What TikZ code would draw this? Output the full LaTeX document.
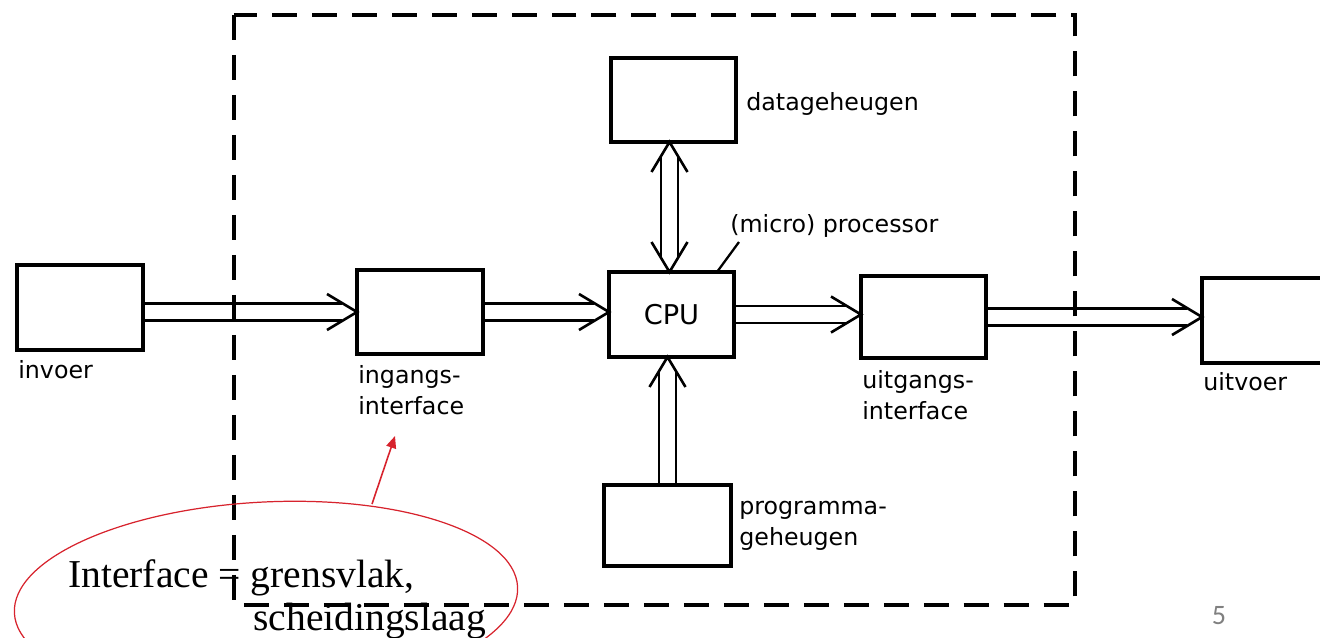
\documentclass[tikz,border=0pt]{standalone}
\usepackage{fontspec}
\usetikzlibrary{arrows.meta,decorations.markings,fit,calc}
\newfontfamily\lblfont{DejaVu Sans}
\newfontfamily\notefont{Liberation Serif}
\newfontfamily\pagefont{Carlito}
\definecolor{notered}{RGB}{215,35,45}
\definecolor{pagegray}{RGB}{128,128,128}
\tikzset{
  box/.style={draw, line width=2pt, inner sep=0pt, outer sep=0pt},
  lbl/.style={font=\lblfont\fontsize{13.5}{17.6}\selectfont, inner sep=0pt, align=left},
  cpulbl/.style={font=\lblfont\fontsize{15.5}{18}\selectfont, inner sep=0pt},
  frame/.style={line width=2.2pt, dash pattern=on 0.5cm off 0.3cm},
  dblarrow/.style={draw=none,
    postaction={draw, line width=1.5pt, double=white, double distance=0.29cm, shorten >=0.3cm},
    postaction={decorate, decoration={markings, mark=at position 1 with {\draw[line width=1.5pt] (-0.6cm,0.36cm) -- (0,0) -- (-0.6cm,-0.36cm);}}}},
  dblarrows/.style={draw=none,
    postaction={draw, line width=1.5pt, double=white, double distance=0.29cm, shorten >=0.3cm, shorten <=0.3cm},
    postaction={decorate, decoration={markings,
      mark=at position 0 with {\draw[line width=1.5pt] (0.6cm,0.36cm) -- (0,0) -- (0.6cm,-0.36cm);},
      mark=at position 1 with {\draw[line width=1.5pt] (-0.6cm,0.36cm) -- (0,0) -- (-0.6cm,-0.36cm);}}}},
  leader/.style={line width=1.3pt},
  notetext/.style={font=\notefont\fontsize{22.5}{26}\selectfont, inner sep=0pt, anchor=base west},
  notearrow/.style={notered, line width=0.9pt, -{Triangle[length=0.24cm,width=0.2cm]}},
  noteellipse/.style={notered, line width=0.7pt}
}
\begin{document}
\begin{tikzpicture}[x=0.02cm, y=-0.02cm]
\useasboundingbox (0,0) rectangle (1320,637);
\clip (0,0) rectangle (1320,637);

% box positions (outlines drawn after connectors)
\path node[box, draw=none, fit={(17,265) (143,350)}] (invoer) {}
      node[box, draw=none, fit={(357,270) (483,354)}] (ingang) {}
      node[box, draw=none, fit={(609,272) (734,357)}] (cpu) {}
      node[box, draw=none, fit={(861,276) (986,358)}] (uitgang) {}
      node[box, draw=none, fit={(1202,278) (1335,363)}] (uitvoer) {}
      node[box, draw=none, fit={(611,58) (736,142)}] (data) {}
      node[box, draw=none, fit={(604,485) (731,566)}] (prog) {};

% connectors
\draw[dblarrow] (invoer.east |- ingang.west) -- (ingang.west);
\draw[dblarrow] (ingang.east) -- (ingang.east -| cpu.west);
\draw[dblarrow] (cpu.east) -- (cpu.east -| uitgang.west);
\draw[dblarrow] (uitgang.east) -- (uitgang.east -| uitvoer.west);
\draw[dblarrows] ($(data.south)+(-4,0)$) -- ($(data.south |- cpu.north)+(-4,0)$);
\draw[dblarrow] (prog.north) -- (prog.north |- cpu.south);

% box outlines
\foreach \b in {invoer,ingang,cpu,uitgang,uitvoer,data,prog}
  \draw[line width=2pt] (\b.south west) rectangle (\b.north east);
\node[cpulbl] (cpulabel) at (cpu.center) {CPU};

% dashed system boundary
\draw[frame] (234,15) rectangle (1075,605);

% labels
\node[lbl, anchor=base west] (invoerlbl) at (18,378) {invoer};
\node[lbl, anchor=base west] (inganglbl) at (358,414) {ingangs-\\interface};
\node[lbl, anchor=base west] (uitganglbl) at (862,419) {uitgangs-\\interface};
\node[lbl, anchor=base west] (uitvoerlbl) at (1203,390) {uitvoer};
\node[lbl, anchor=base west] (datalbl) at (746,110) {datageheugen};
\node[lbl, anchor=base west] (proglbl) at (739,545) {programma-\\geheugen};
\node[lbl, anchor=base west] (proclbl) at (730,232) {(micro) processor};

% leader to CPU
\coordinate (leadstart) at (739,242);
\coordinate (leadend) at ($(cpu.north east)+(-17,0)$);
\draw[leader] (leadstart) -- (leadend);

% annotation
\node[notetext] (note1) at (68,587) {Interface = grensvlak,};
\node[notetext] (note2) at (253,630) {scheidingslaag};
\draw[noteellipse, rotate around={3:(266,600)}] (266,600) ellipse [x radius=5.04cm, y radius=1.96cm];
\coordinate (notetop) at (372,504);
\coordinate (notetip) at (395,436);
\draw[notearrow] (notetop) -- (notetip);

% page number
\node[font=\pagefont\fontsize{16}{18}\selectfont, text=pagegray, anchor=base, inner sep=0pt] (pagenr) at (1219,624) {5};
\end{tikzpicture}
\end{document}
